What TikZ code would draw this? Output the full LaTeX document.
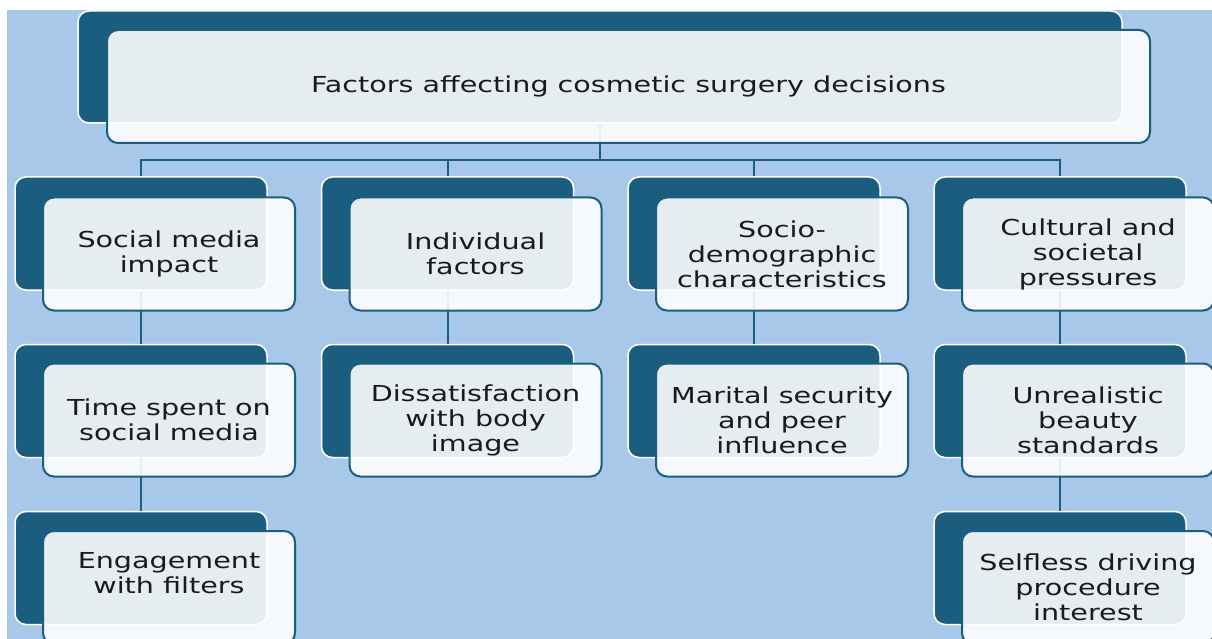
\documentclass[tikz,border=0pt]{standalone}
\usepackage{fontspec}
\setmainfont{DejaVu Sans}[FakeStretch=1.3]
\usepackage{tikz}
\definecolor{bgblue}{HTML}{A8C8E9}
\definecolor{boxblue}{HTML}{1B5D7E}
\definecolor{inktext}{HTML}{1A1A1A}
\tikzset{back/.style={draw=white, line width=1.5pt, fill=boxblue, rounded corners=11pt,
  minimum width=252pt, minimum height=113pt}}
\tikzset{front/.style={draw=boxblue, line width=2pt, fill=white, fill opacity=0.89, text opacity=1,
  text=inktext, rounded corners=11pt, minimum width=252pt, minimum height=113pt,
  align=center, font=\fontsize{22}{25}\selectfont}}
\tikzset{link/.style={draw=boxblue, line width=2pt}}

\begin{document}
\begin{tikzpicture}[x=1pt, y=-1pt]
      \useasboundingbox (0, 0) rectangle (1212, 639);
      \fill [white] (0, 0) rectangle (1212, 639);
      \fill [bgblue] (7, 10) rectangle (1212, 639);

      % dark back boxes
      \node [back, minimum width=1044pt, minimum height=112pt] (topb) at (600, 67) {};
      \node [back] (socialb) at (141, 233.5) {};
      \node [back] (indivb) at (447.5, 233.5) {};
      \node [back] (sociob) at (754, 233.5) {};
      \node [back] (cultb) at (1060, 233.5) {};
      \node [back] (timeb) at (141, 401) {};
      \node [back] (dissatb) at (447.5, 401) {};
      \node [back] (maritalb) at (754, 401) {};
      \node [back] (unrealb) at (1060, 401) {};
      \node [back] (engageb) at (141, 568) {};
      \node [back] (selflessb) at (1060, 568) {};

      % connectors
      \coordinate (hub) at (600, 160);
      \draw [link] (topb.south) -- (hub);
      \foreach \n in {socialb, indivb, sociob, cultb}
        \draw [link] (hub) -| (\n.north);
      \draw [link] (socialb.south) -- (timeb.north);
      \draw [link] (indivb.south) -- (dissatb.north);
      \draw [link] (sociob.south) -- (maritalb.north);
      \draw [link] (cultb.south) -- (unrealb.north);
      \draw [link] (timeb.south) -- (engageb.north);
      \draw [link] (unrealb.south) -- (selflessb.north);

      % light front boxes
      \node [front, minimum width=1043pt] (top) at (628.5, 86.5) {Factors affecting cosmetic surgery decisions};
      \node [front] (social) at (169, 254) {Social media\\impact};
      \node [front] (indiv) at (475.5, 254) {Individual\\factors};
      \node [front] (socio) at (782, 254) {Socio-\\demographic\\characteristics};
      \node [front] (cult) at (1088, 254) {Cultural and\\societal\\pressures};
      \node [front] (time) at (169, 420) {Time spent on\\social media};
      \node [front] (dissat) at (475.5, 420) {Dissatisfaction\\with body\\image};
      \node [front] (marital) at (782, 420) {Marital security\\and peer\\influence};
      \node [front] (unreal) at (1088, 420) {Unrealistic\\beauty\\standards};
      \node [front, text depth=29pt] (engage) at (169, 587.5) {Engagement\\with filters};
      \node [front] (selfless) at (1088, 587.5) {Selfless driving\\procedure\\interest};
    \end{tikzpicture}
\end{document}
